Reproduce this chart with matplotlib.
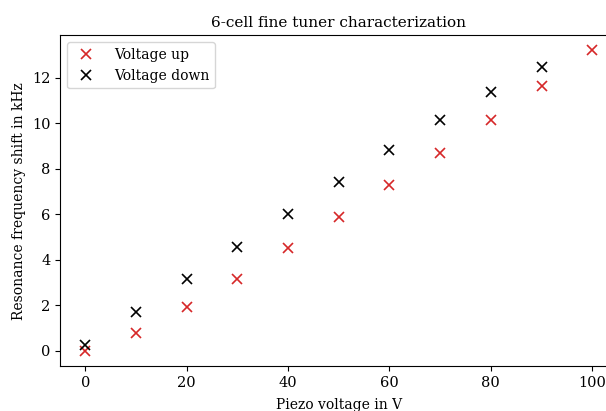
import matplotlib
matplotlib.use("Agg")
import matplotlib.pyplot as plt

voltage_up_x = [0, 10, 20, 30, 40, 50, 60, 70, 80, 90, 100]
voltage_up_y = [0.0, 0.77, 1.92, 3.17, 4.50, 5.90, 7.29, 8.69, 10.15, 11.62, 13.2]
voltage_down_x = [0, 10, 20, 30, 40, 50, 60, 70, 80, 90]
voltage_down_y = [0.28, 1.72, 3.14, 4.57, 6.02, 7.41, 8.82, 10.14, 11.37, 12.47]

plt.rcParams['font.family'] = ['DejaVu Serif']
plt.rcParams['font.size'] = 10

fig = plt.figure(figsize=(6.06, 4.11), dpi=100)
ax = fig.add_axes([60/606, 45/411, 557.6/606, 330.7/411])
ax.plot(voltage_up_x, voltage_up_y, 'x', color='#d62728', markersize=7.5, mew=1.2, label='Voltage up')
ax.plot(voltage_down_x, voltage_down_y, 'x', color='black', markersize=7.5, mew=1.2, label='Voltage down')
ax.set_xticks([0, 20, 40, 60, 80, 100])
ax.set_yticks([0, 2, 4, 6, 8, 10, 12])
ax.tick_params(labelsize=10.5)
ax.set_xlabel('Piezo voltage in V', labelpad=6)
ax.set_ylabel('Resonance frequency shift in kHz')
ax.set_title('6-cell fine tuner characterization', fontsize=11)
ax.legend(loc='upper left', handletextpad=1.0)
fig.savefig('out.png', dpi=100)
